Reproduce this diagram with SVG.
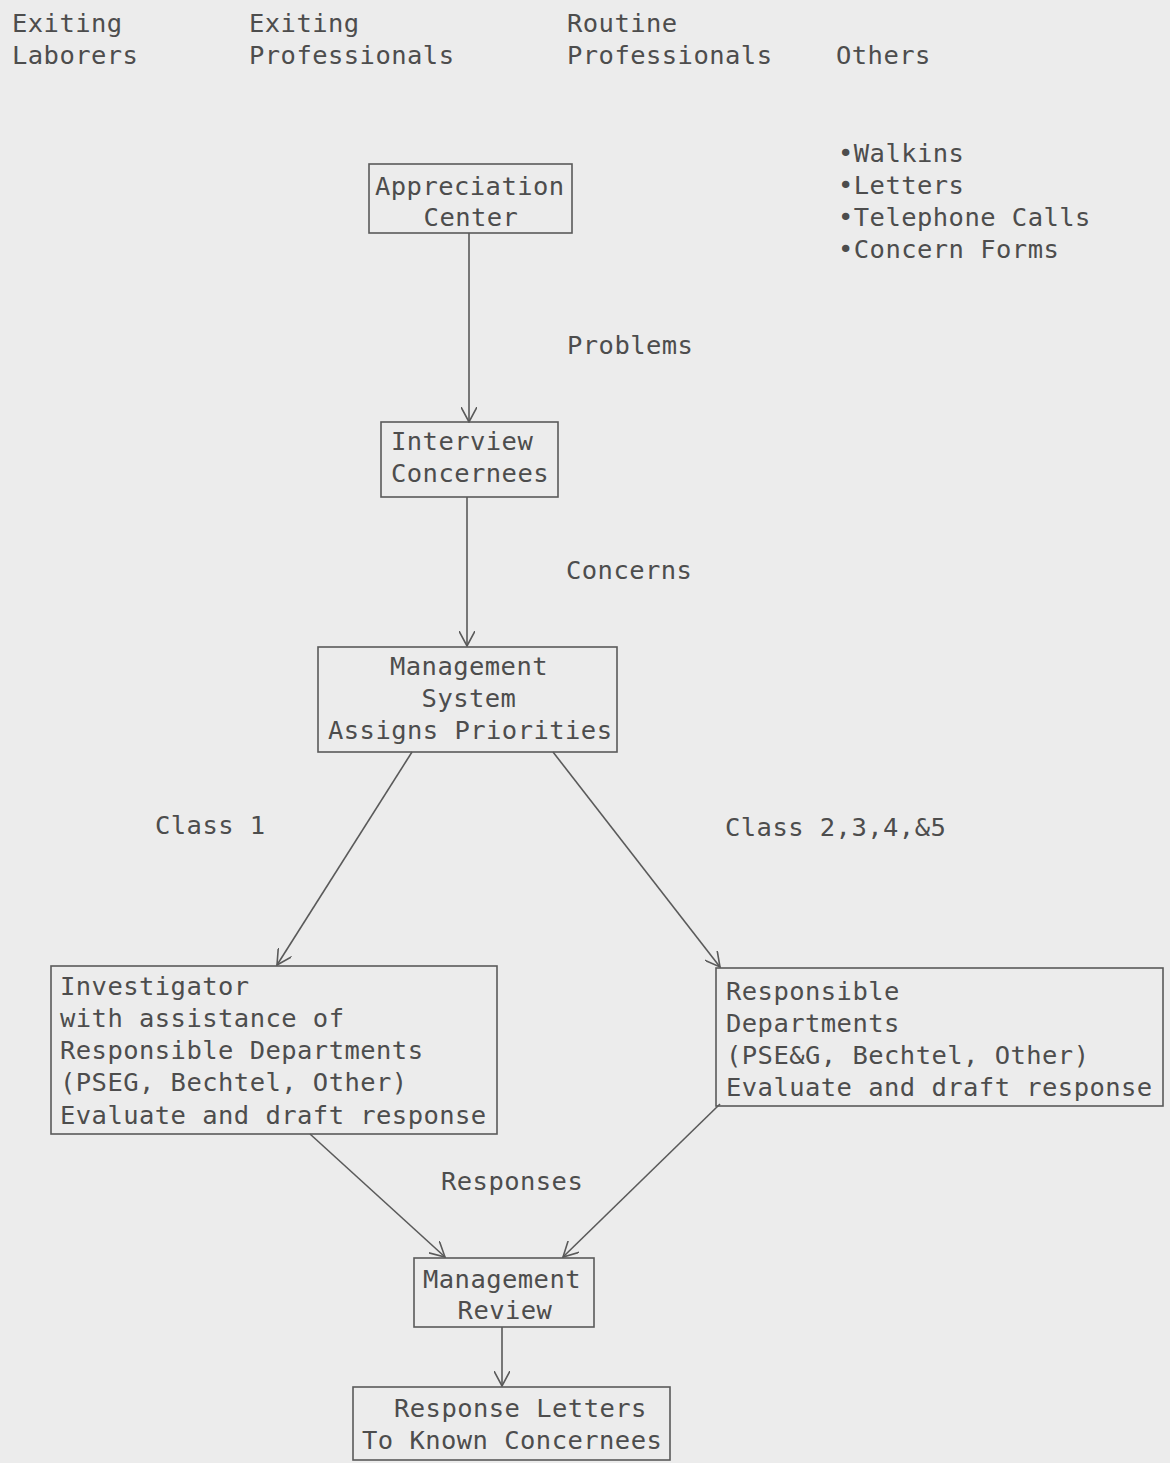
<svg xmlns="http://www.w3.org/2000/svg" width="1170" height="1463" viewBox="0 0 1170 1463">
<defs>
<style>
text{font-family:"DejaVu Sans Mono","Liberation Mono",monospace;font-size:25.5px;letter-spacing:0.45px;fill:#4d4d4d}
.box{fill:none;stroke:#5a5a5a;stroke-width:1.6}
.edge{fill:none;stroke:#5a5a5a;stroke-width:1.6}
.mid{text-anchor:middle}
</style>
<marker id="ah" viewBox="0 0 16 16" refX="15" refY="8" markerWidth="16" markerHeight="16" markerUnits="userSpaceOnUse" orient="auto">
<path d="M0,0 L15,8 L0,16" fill="none" stroke="#5a5a5a" stroke-width="1.6"/>
</marker>
</defs>
<rect width="1170" height="1463" fill="#ececec"/>
<g id="headers">
<text x="12" y="32">Exiting</text>
<text x="12" y="64">Laborers</text>
<text x="249" y="32">Exiting</text>
<text x="249" y="64">Professionals</text>
<text x="567" y="32">Routine</text>
<text x="567" y="64">Professionals</text>
<text x="836" y="64">Others</text>
</g>
<g id="others-list">
<text x="838" y="162">•Walkins</text>
<text x="838" y="194">•Letters</text>
<text x="838" y="226">•Telephone Calls</text>
<text x="838" y="258">•Concern Forms</text>
</g>
<g id="connectors">
<line class="edge" x1="469" y1="233" x2="469" y2="422" marker-end="url(#ah)"/>
<line class="edge" x1="467" y1="497" x2="467" y2="646" marker-end="url(#ah)"/>
<line class="edge" x1="412" y1="752" x2="277" y2="965" marker-end="url(#ah)"/>
<line class="edge" x1="553" y1="752" x2="720" y2="967" marker-end="url(#ah)"/>
<line class="edge" x1="310" y1="1134" x2="445" y2="1257" marker-end="url(#ah)"/>
<line class="edge" x1="720" y1="1104" x2="563" y2="1257" marker-end="url(#ah)"/>
<line class="edge" x1="502" y1="1327" x2="502" y2="1386" marker-end="url(#ah)"/>
</g>
<g id="edge-labels">
<text x="567" y="354">Problems</text>
<text x="566" y="579">Concerns</text>
<text x="155" y="834">Class 1</text>
<text x="725" y="836">Class 2,3,4,&amp;5</text>
<text x="441" y="1190">Responses</text>
</g>
<g id="appreciation-center">
<rect class="box" x="369" y="164" width="203" height="69"/>
<text x="375" y="195">Appreciation</text>
<text class="mid" x="471" y="226">Center</text>
</g>
<g id="interview">
<rect class="box" x="381" y="422" width="177" height="75"/>
<text x="391" y="450">Interview</text>
<text x="391" y="482">Concernees</text>
</g>
<g id="management-system">
<rect class="box" x="318" y="647" width="299" height="105"/>
<text class="mid" x="469" y="675">Management</text>
<text class="mid" x="469" y="707">System</text>
<text x="328" y="739">Assigns Priorities</text>
</g>
<g id="investigator">
<rect class="box" x="51" y="966" width="446" height="168"/>
<text x="60" y="995">Investigator</text>
<text x="60" y="1027">with assistance of</text>
<text x="60" y="1059">Responsible Departments</text>
<text x="60" y="1091">(PSEG, Bechtel, Other)</text>
<text x="60" y="1124">Evaluate and draft response</text>
</g>
<g id="responsible-departments">
<rect class="box" x="716" y="968" width="447" height="138"/>
<text x="726" y="1000">Responsible</text>
<text x="726" y="1032">Departments</text>
<text x="726" y="1064">(PSE&amp;G, Bechtel, Other)</text>
<text x="726" y="1096">Evaluate and draft response</text>
</g>
<g id="management-review">
<rect class="box" x="414" y="1258" width="180" height="69"/>
<text x="423" y="1288">Management</text>
<text class="mid" x="505" y="1319">Review</text>
</g>
<g id="response-letters">
<rect class="box" x="353" y="1387" width="317" height="73"/>
<text x="394" y="1417">Response Letters</text>
<text x="362" y="1449">To Known Concernees</text>
</g>
</svg>
